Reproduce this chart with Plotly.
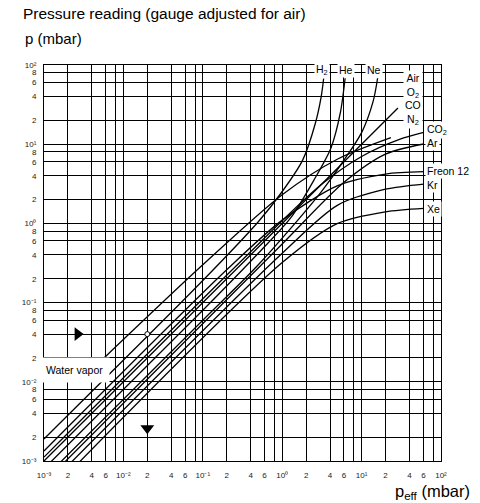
import plotly.graph_objects as go

# ---- data (p_eff in mbar, p reading in mbar) ----
air_x = [1e-3, 28.7]
air_y = [1e-3, 28.6]

h2_x = [1e-3, 0.1, 0.5, 0.97, 1.81, 2.6, 3.1, 3.33]
h2_y = [1.9e-3, 0.19, 1.05, 2.42, 6.3, 18, 40, 68]

he_x = [1e-3, 0.1, 0.5, 1.3, 2.5, 4.1, 5.4, 6.2]
he_y = [0.8e-3, 0.08, 0.42, 1.2, 3.5, 8.9, 25, 68]

ne_x = [1e-3, 0.1, 0.5, 3, 6, 10, 14, 15.9]
ne_y = [0.6e-3, 0.06, 0.3, 2.4, 6.3, 14, 35, 68]

co2_x = [1e-3, 0.3, 3, 10, 30, 60.5]
co2_y = [1.12e-3, 0.33, 3, 7, 11.5, 14.1]

ar_x = [1e-3, 1, 6, 20, 60.5]
ar_y = [0.53e-3, 0.55, 3.3, 7.5, 10.06]

freon_x = [1e-3, 0.2, 1, 5, 20, 60.5]
freon_y = [1.34e-3, 0.26, 1.1, 3.0, 4.2, 4.5]

kr_x = [1e-3, 1, 5, 20, 60.5]
kr_y = [0.435e-3, 0.42, 1.7, 2.7, 3.14]

xe_x = [1e-3, 1, 5, 20, 60.5]
xe_y = [0.34e-3, 0.32, 1.0, 1.4, 1.55]

h2o_x = [5.7e-3, 0.1, 1, 5, 23.4]
h2o_y = [2.0e-2, 0.3, 2.3, 6.5, 12.1]

example_x = [2e-2]
example_y = [4e-2]

# ticks
decades = [-3, -2, -1, 0, 1, 2]
sup = {-3: "10⁻³", -2: "10⁻²", -1: "10⁻¹", 0: "10⁰", 1: "10¹", 2: "10²"}
grid_vals = []
x_text = []
y_text = []
for d in decades:
    mults = [1] if d == 2 else [1, 2, 4, 6, 8]
    for m in mults:
        grid_vals.append(m * 10.0 ** d)
        if m == 1:
            x_text.append(sup[d]); y_text.append(sup[d])
        else:
            x_text.append("" if m == 8 else str(m))
            y_text.append(str(m))

fig = go.Figure()
line_style = dict(color="black", width=1.3, shape="spline", smoothing=0.8)
for xs, ys in [(air_x, air_y), (h2_x, h2_y), (he_x, he_y), (ne_x, ne_y),
               (co2_x, co2_y), (ar_x, ar_y), (freon_x, freon_y), (kr_x, kr_y),
               (xe_x, xe_y), (h2o_x, h2o_y)]:
    fig.add_trace(go.Scatter(x=xs, y=ys, mode="lines", line=line_style,
                             hoverinfo="skip", showlegend=False))

# example arrows
fig.add_trace(go.Scatter(x=[2.65e-3], y=[4e-2], mode="markers",
                         marker=dict(symbol="triangle-right", size=12, color="black"),
                         showlegend=False, hoverinfo="skip"))
fig.add_trace(go.Scatter(x=[2e-2], y=[2.6e-3], mode="markers",
                         marker=dict(symbol="triangle-down", size=12, color="black"),
                         showlegend=False, hoverinfo="skip"))
fig.add_trace(go.Scatter(x=example_x, y=example_y, mode="markers",
                         marker=dict(symbol="circle", size=5, color="white",
                                     line=dict(color="black", width=1)),
                         showlegend=False, hoverinfo="skip"))

lab_font = dict(family="Liberation Sans, Arial", size=10.5, color="black")
def lab(text, x, y, xanchor="center", pad=1):
    fig.add_annotation(x=x, y=y, xref="x", yref="y", text=text, showarrow=False,
                       font=lab_font, bgcolor="white", xanchor=xanchor,
                       yanchor="middle", borderpad=pad)

lab("H<sub>2</sub>", 0.503, 1.937)
lab("He", 0.805, 1.937)
lab("Ne", 1.157, 1.937)
lab("Air<br>O<sub>2</sub><br>CO<br>N<sub>2</sub>", 1.648, 1.57)
lab("CO<sub>2</sub>", 1.80, 1.179, "left")
lab("Ar", 1.80, 1.015, "left")
lab("Freon 12", 1.80, 0.662, "left")
lab("Kr", 1.80, 0.485, "left")
lab("Xe", 1.80, 0.182, "left")
lab("Water vapor", -2.62, -1.85, pad=6)

PX0, PX1, PY0, PY1 = 43.5, 441.0, 65.0, 461.0
def px(x):
    return (x - PX0) / (PX1 - PX0)
def py(y):
    return (PY1 - y) / (PY1 - PY0)

fig.add_annotation(x=px(20), y=py(13), xref="paper", yref="paper",
                   text="Pressure reading (gauge adjusted for air)", showarrow=False,
                   font=dict(family="Liberation Sans, Arial", size=15.5, color="black"),
                   xanchor="left", yanchor="middle")
fig.add_annotation(x=px(22), y=py(38), xref="paper", yref="paper",
                   text="p (mbar)", showarrow=False,
                   font=dict(family="Liberation Sans, Arial", size=15, color="black"),
                   xanchor="left", yanchor="middle")
fig.add_annotation(x=px(472), y=py(492), xref="paper", yref="paper",
                   text="p<sub>eff</sub> (mbar)", showarrow=False,
                   font=dict(family="Liberation Sans, Arial", size=16.5, color="black"),
                   xanchor="right", yanchor="middle")

tick_font = dict(family="Liberation Sans, Arial", size=8, color="#222")
fig.update_xaxes(type="log", range=[-3, 2], tickvals=grid_vals, ticktext=x_text,
                 showgrid=True, gridcolor="black", gridwidth=1, zeroline=False,
                 showline=True, linecolor="black", linewidth=1, mirror=True,
                 ticks="", tickfont=tick_font, automargin=False, ticklabelstandoff=6)
fig.update_yaxes(type="log", range=[-3, 2], tickvals=grid_vals, ticktext=y_text,
                 showgrid=True, gridcolor="black", gridwidth=1, zeroline=False,
                 showline=True, linecolor="black", linewidth=1, mirror=True,
                 ticks="", tickfont=tick_font, automargin=False, ticklabelstandoff=5)
fig.update_layout(width=480, height=503,
                  margin=dict(l=PX0, r=480 - PX1, t=PY0, b=503 - PY1, autoexpand=False),
                  plot_bgcolor="white", paper_bgcolor="white", showlegend=False)
fig.write_html("out.html", config={"displayModeBar": False},
               post_script="document.body.style.margin='0';")
